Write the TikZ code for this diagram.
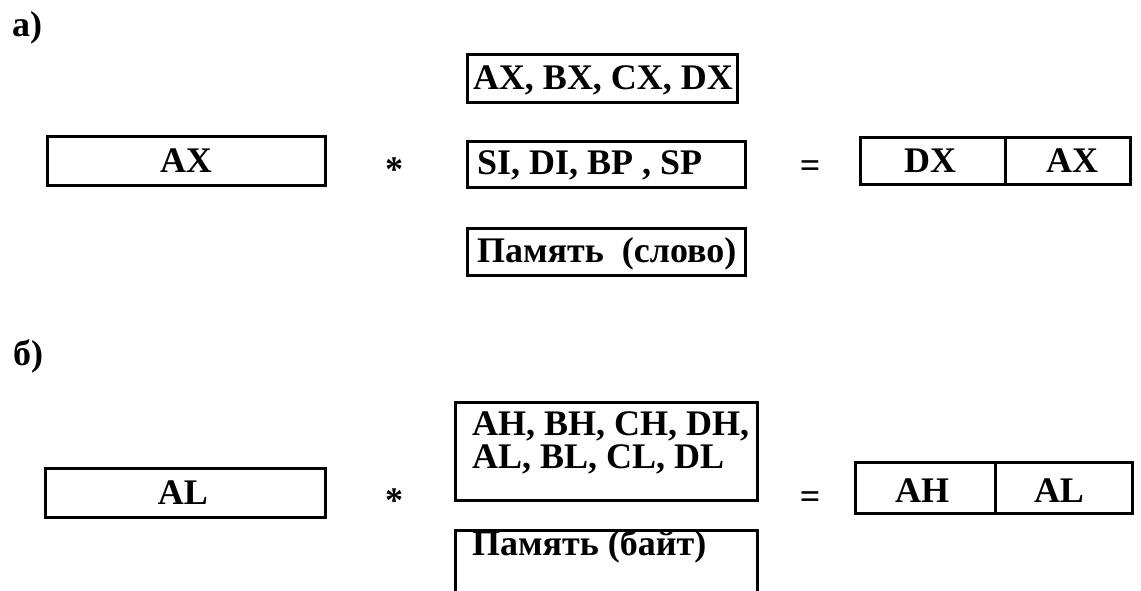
\documentclass[tikz,border=0pt]{standalone}
\usepackage{fontspec}
\setmainfont{Liberation Serif}
\begin{document}
\begin{tikzpicture}[x=1pt,y=-1pt,
  font=\fontsize{36}{32}\selectfont\bfseries,
  regbox/.style 2 args={draw, line width=3pt, inner sep=0pt,
    minimum width=#1, minimum height=#2},
  txt/.style={inner sep=0pt},
  sign/.style={inner sep=0pt, anchor=north, text depth=0pt}]
\useasboundingbox (0,0) rectangle (1141,591);

% ---------- a) word operand ----------
\node[txt, anchor=base west] (la) at (12,37) {а)};

\node[regbox={278}{49}] (ax) at (186,161.5) {};
\node[txt, anchor=base] (axt) at (186,172) {AX};

\node[sign] (mula) at (394,158) {*};

\node[regbox={270}{48}] (r16) at (602,79) {};
\node[txt, anchor=base] (r16t) at (603,90) {AX, BX, CX, DX};
\node[regbox={278}{46}] (idx) at (606,165) {};
\node[txt, anchor=base west] (idxt) at (477,175) {SI, DI, BP , SP};
\node[regbox={278}{47}] (memw) at (606,251.5) {};
\node[txt, anchor=base west] (memwt) at (477,262) {Память\ \ (слово)};

\node[sign] (eqa) at (810,160) {=};

\node[regbox={145}{47}] (dx) at (932.5,161.5) {};
\node[regbox={125}{47}] (axr) at (1067.5,161.5) {};
\node[txt, anchor=base] (dxt) at (930,173) {DX};
\node[txt, anchor=base] (axrt) at (1072,173) {AX};

% ---------- б) byte operand ----------
\node[txt, anchor=base west] (lb) at (13,365) {б)};

\node[regbox={280}{49}] (al) at (185,492.5) {};
\node[txt, anchor=base] (alt) at (183,504) {AL};

\node[sign] (mulb) at (394,489) {*};

\node[regbox={302}{98}] (r8) at (606,451) {};
\node[txt, anchor=base west] (r8a) at (472,435) {AH, BH, CH, DH,};
\node[txt, anchor=base west] (r8b) at (472,468) {AL, BL, CL, DL};
\node[regbox={302}{120}] (memb) at (606,590) {};
\node[txt, anchor=base west] (membt) at (472,555) {Память (байт)};

\node[sign] (eqb) at (810,491) {=};

\node[regbox={140}{51}] (ah) at (925,487.5) {};
\node[regbox={137}{51}] (alr) at (1063.5,487.5) {};
\node[txt, anchor=base] (aht) at (922,502) {AH};
\node[txt, anchor=base] (alrt) at (1059,502) {AL};
\end{tikzpicture}
\end{document}
